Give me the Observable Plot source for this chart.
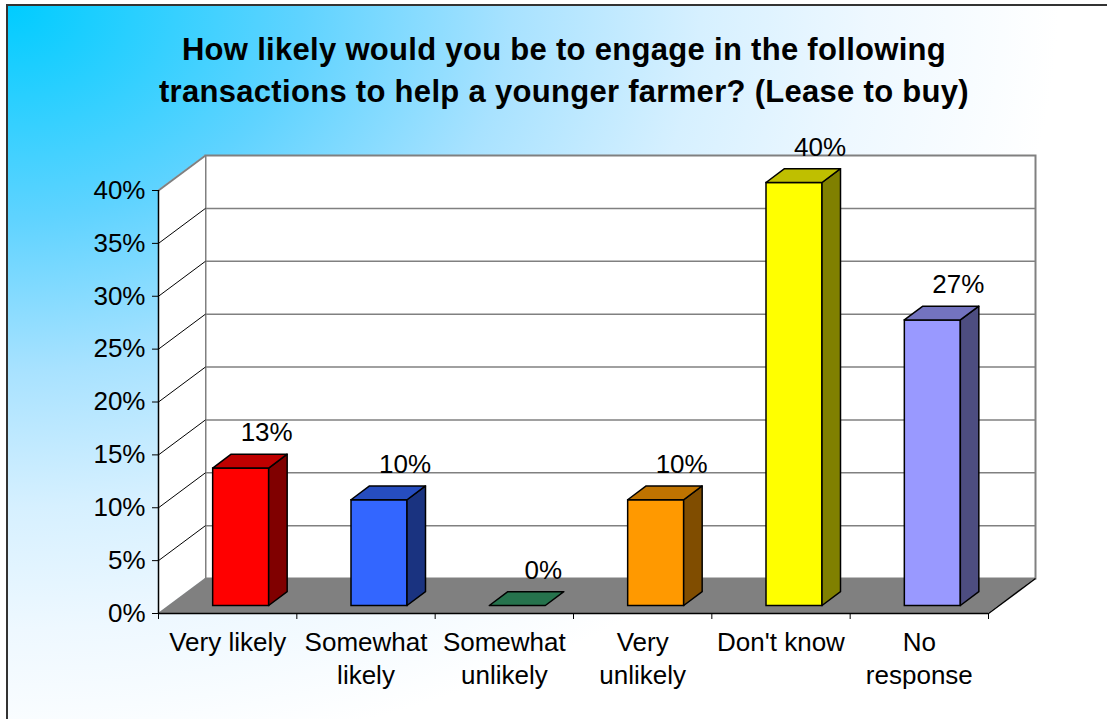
<!DOCTYPE html>
<html><head><meta charset="utf-8">
<script src="https://cdn.jsdelivr.net/npm/d3@7"></script>
<script src="https://cdn.jsdelivr.net/npm/@observablehq/plot@0.6"></script>
<style>
html,body{margin:0;padding:0;width:1107px;height:719px;overflow:hidden;background:#fff;}
#frame{position:absolute;left:6px;top:4px;width:1200px;height:800px;border-left:2px solid #333;border-top:2px solid #333;
  background:radial-gradient(ellipse 1050px 760px at 0px 0px,#00ccff 0%,#5fd3ff 28%,#a8e2ff 48%,#d6f0ff 66%,#eef8ff 82%,#ffffff 100%);}
#title{position:absolute;left:0;top:0;width:1128px;text-align:center;font:bold 31px "Liberation Sans",Arial,sans-serif;letter-spacing:0.3px;line-height:42px;padding-top:29px;color:#000;}
#chart{position:absolute;left:0;top:120px;}
</style></head><body>
<div id="frame"></div>
<div id="title">How likely would you be to engage in the following<br>transactions to help a younger farmer? (Lease to buy)</div>
<div id="chart"></div>
<script>
const categories = ["Very likely","Somewhat\nlikely","Somewhat\nunlikely","Very\nunlikely","Don't know","No\nresponse"];
const values = [13,10,0,10,40,27];
const barColors = ["#FF0000","#3366FF","#339966","#FF9900","#FFFF00","#9999FF"];
const yTicks = [0,5,10,15,20,25,30,35,40];

const W=1107,H=599,mL=158,mR=119,mT=70,mB=106;
const n = categories.length;
const yMax = d3.max(yTicks);
const kx=(W-mL-mR)/n, ky=(H-mT-mB)/yMax;
const wall={dx:47,dy:35};
const wdx=wall.dx/kx, wdy=wall.dy/ky;
const bf={dx:13.5,dy:7.5}, bd={dx:18.5,dy:13.8}, halfW=28;
const bfx=bf.dx/kx, bfy=bf.dy/ky, bdx=bd.dx/kx, bdy=bd.dy/ky, hw=halfW/kx;
const FS = 26;

function shade(c,f){const r=d3.rgb(c);return d3.rgb(r.r*f,r.g*f,r.b*f).formatHex();}

const bars = categories.map((cat,i)=>({cat,i,v:values[i],color:barColors[i],
  xc:i+0.5, xl:i+0.5+bfx-hw,xr:i+0.5+bfx+hw,yb:bfy,yt:bfy+values[i], y0:0}));
const sides = bars.filter(b=>b.v>0).flatMap(b=>[
  {i:b.i,x:b.xr,y1:b.yb,y2:b.yt,fill:shade(b.color,0.5)},
  {i:b.i,x:b.xr+bdx,y1:b.yb+bdy,y2:b.yt+bdy,fill:shade(b.color,0.5)}]);
const tops = bars.flatMap(b=>[
  {i:b.i,y:b.yt,x1:b.xl,x2:b.xr,fill:shade(b.color,0.75)},
  {i:b.i,y:b.yt+bdy,x1:b.xl+bdx,x2:b.xr+bdx,fill:shade(b.color,0.75)}]);
const leftWall=[{x:0,y1:0,y2:yMax},{x:wdx,y1:wdy,y2:yMax+wdy}];
const floor=[{y:0,x1:0,x2:n},{y:wdy,x1:wdx,x2:n+wdx}];
const wallLinks = yTicks.filter(t=>t>0).map(t=>({x1:0,x2:wdx,y1:t,y2:t+wdy,top:t===yMax}));
const floorEdge = [{x1:n,x2:n+wdx,y1:0,y2:wdy}];
const inner = yTicks.filter(t=>t>0&&t<yMax);

const chart = Plot.plot({
  width:W,height:H,marginLeft:mL,marginRight:mR,marginTop:mT,marginBottom:mB,
  style:{background:"transparent",fontFamily:'"Liberation Sans", Arial, sans-serif',fontSize:FS+"px",color:"black",overflow:"visible"},
  x:{domain:[0,n]},
  y:{domain:[0,yMax]},
  color:{type:"identity"},
  marks:[
    Plot.frame({fill:"white",stroke:"#808080",strokeWidth:2,dx:wall.dx,dy:-wall.dy}),
    Plot.ruleY(inner,{stroke:"#808080",strokeWidth:1.5,dx:wall.dx,dy:-wall.dy}),
    Plot.areaY(leftWall,{x:"x",y1:"y1",y2:"y2",fill:"white"}),
    Plot.link(wallLinks.filter(d=>!d.top),{x1:"x1",x2:"x2",y1:"y1",y2:"y2",stroke:"black",strokeWidth:1}),
    Plot.link(wallLinks.filter(d=>d.top),{x1:"x1",x2:"x2",y1:"y1",y2:"y2",stroke:"#808080",strokeWidth:2}),
    Plot.areaX(floor,{y:"y",x1:"x1",x2:"x2",fill:"#808080"}),
    Plot.link(floorEdge,{x1:"x1",x2:"x2",y1:"y1",y2:"y2",stroke:"black",strokeWidth:1.5}),
    Plot.ruleY([0],{stroke:"black",strokeWidth:1.5}),
    Plot.ruleX([0],{y1:d=>0,y2:d=>yMax,stroke:"black",strokeWidth:1.5}),
    Plot.axisY(yTicks,{tickSize:6,tickPadding:7,tickFormat:d=>d+"%",fontSize:FS,label:null}),
    Plot.axisX(d3.range(n+1),{tickSize:6,tickFormat:()=>"",label:null}),
    Plot.rect(bars,{x1:"xl",x2:"xr",y1:"yb",y2:"yt",fill:"color",stroke:"black",strokeWidth:1.5}),
    Plot.areaY(sides,{x:"x",y1:"y1",y2:"y2",z:"i",fill:"fill",stroke:"black",strokeWidth:1.5,strokeLinejoin:"round"}),
    Plot.areaX(tops,{y:"y",x1:"x1",x2:"x2",z:"i",fill:"fill",stroke:"black",strokeWidth:1.5,strokeLinejoin:"round"}),
    Plot.text(bars,{x:"xc",y:"v",text:d=>d.v+"%",dx:39,dy:-43,fontSize:FS}),
    Plot.text(bars,{x:"xc",y:"y0",text:"cat",lineAnchor:"top",dy:14,fontSize:FS,lineHeight:1.27})
  ]
});
document.getElementById("chart").appendChild(chart);
</script>
</body></html>
